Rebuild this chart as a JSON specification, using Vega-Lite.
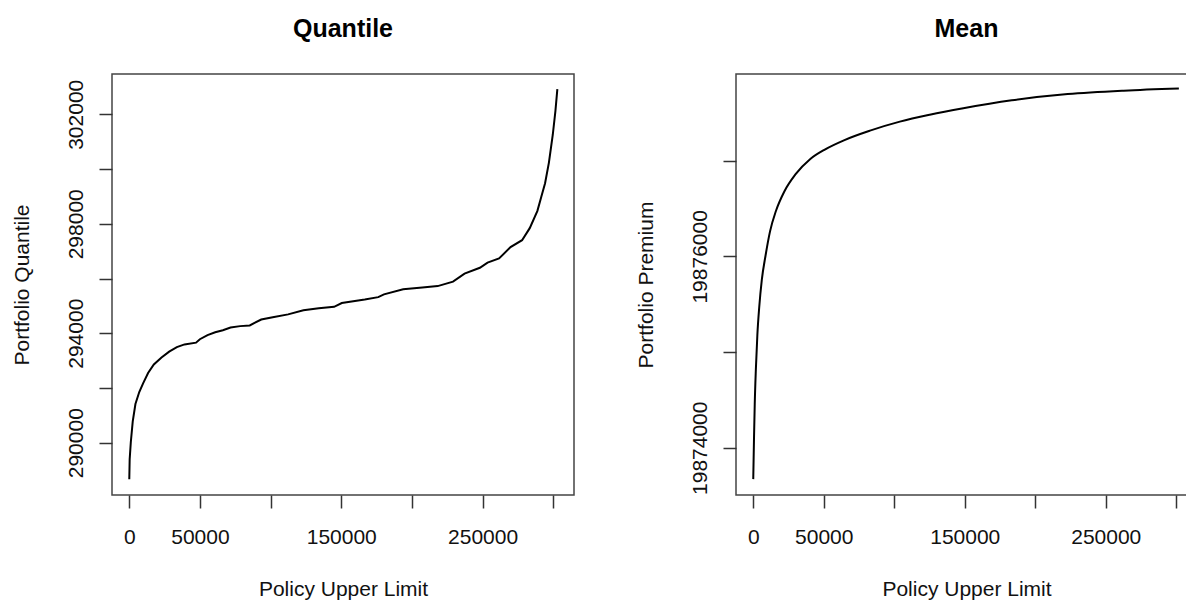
{
  "$schema": "https://vega.github.io/schema/vega-lite/v6.json",
  "background": "white",
  "padding": {"left": 10, "top": 16, "right": 0, "bottom": 0},
  "spacing": 162,
  "bounds": "flush",
  "config": {
    "view": {"stroke": "#444444", "strokeWidth": 1.5},
    "font": "Liberation Sans",
    "axis": {
      "grid": false,
      "domain": false,
      "tickColor": "#333333",
      "tickSize": 13,
      "tickWidth": 1.5,
      "labelFont": "Liberation Sans",
      "labelFontSize": 21,
      "labelColor": "#111111",
      "titleFont": "Liberation Sans",
      "titleFontSize": 21,
      "titleFontWeight": "normal",
      "titleColor": "#111111",
      "labelOverlap": false,
      "labelFlush": false
    },
    "title": {"font": "Liberation Sans", "fontSize": 25, "fontWeight": "bold", "color": "#000000", "anchor": "middle", "offset": 32, "baseline": "alphabetic"}
  },
  "datasets": {
    "quantile": [
      {"limit": 0, "value": 288664},
      {"limit": 271, "value": 289395},
      {"limit": 1086, "value": 290025},
      {"limit": 2443, "value": 290782},
      {"limit": 4343, "value": 291412},
      {"limit": 7057, "value": 291853},
      {"limit": 9772, "value": 292168},
      {"limit": 13301, "value": 292546},
      {"limit": 17372, "value": 292861},
      {"limit": 22801, "value": 293113},
      {"limit": 28230, "value": 293328},
      {"limit": 33659, "value": 293491},
      {"limit": 39087, "value": 293592},
      {"limit": 47231, "value": 293655},
      {"limit": 49945, "value": 293782},
      {"limit": 55374, "value": 293933},
      {"limit": 60803, "value": 294034},
      {"limit": 66231, "value": 294109},
      {"limit": 71660, "value": 294210},
      {"limit": 78446, "value": 294260},
      {"limit": 85232, "value": 294286},
      {"limit": 93375, "value": 294500},
      {"limit": 101519, "value": 294588},
      {"limit": 112376, "value": 294689},
      {"limit": 123234, "value": 294840},
      {"limit": 134091, "value": 294916},
      {"limit": 144949, "value": 294966},
      {"limit": 150378, "value": 295105},
      {"limit": 166664, "value": 295231},
      {"limit": 176165, "value": 295319},
      {"limit": 180237, "value": 295420},
      {"limit": 193809, "value": 295609},
      {"limit": 207380, "value": 295672},
      {"limit": 218238, "value": 295722},
      {"limit": 229095, "value": 295886},
      {"limit": 237239, "value": 296176},
      {"limit": 248097, "value": 296391},
      {"limit": 253525, "value": 296580},
      {"limit": 261668, "value": 296731},
      {"limit": 269812, "value": 297147},
      {"limit": 277955, "value": 297399},
      {"limit": 283384, "value": 297840},
      {"limit": 288812, "value": 298471},
      {"limit": 291527, "value": 298975},
      {"limit": 294241, "value": 299479},
      {"limit": 296956, "value": 300235},
      {"limit": 299670, "value": 301244},
      {"limit": 301570, "value": 302126},
      {"limit": 302927, "value": 302920}
    ],
    "mean": [
      {"limit": 0, "value": 19873672},
      {"limit": 529, "value": 19874097},
      {"limit": 1058, "value": 19874458},
      {"limit": 1852, "value": 19874819},
      {"limit": 2910, "value": 19875179},
      {"limit": 4233, "value": 19875468},
      {"limit": 6085, "value": 19875756},
      {"limit": 8730, "value": 19876009},
      {"limit": 11905, "value": 19876261},
      {"limit": 16138, "value": 19876477},
      {"limit": 21958, "value": 19876676},
      {"limit": 29894, "value": 19876856},
      {"limit": 40476, "value": 19877018},
      {"limit": 51058, "value": 19877119},
      {"limit": 64286, "value": 19877213},
      {"limit": 82804, "value": 19877314},
      {"limit": 103968, "value": 19877408},
      {"limit": 125132, "value": 19877480},
      {"limit": 148941, "value": 19877548},
      {"limit": 183333, "value": 19877631},
      {"limit": 223016, "value": 19877696},
      {"limit": 262698, "value": 19877732},
      {"limit": 301852, "value": 19877754}
    ]
  },
  "hconcat": [
    {
      "width": 462,
      "height": 421,
      "title": {"text": "Quantile"},
      "data": {"name": "quantile"},
      "mark": {"type": "line", "color": "#000000", "strokeWidth": 2},
      "encoding": {
        "x": {
          "field": "limit", "type": "quantitative",
          "scale": {"domain": [-12235, 314710], "nice": false, "zero": false},
          "axis": {
            "values": [0, 50000, 100000, 150000, 200000, 250000, 300000],
            "format": "d",
            "labelExpr": "datum.value == 100000 || datum.value == 200000 || datum.value == 300000 ? '' : datum.label",
            "labelBaseline": "alphabetic",
            "labelPadding": 35,
            "title": "Policy Upper Limit",
            "titleY": 100,
            "titleBaseline": "alphabetic"
          }
        },
        "y": {
          "field": "value", "type": "quantitative",
          "scale": {"domain": [288089, 303473], "nice": false, "zero": false},
          "axis": {
            "values": [290000, 292000, 294000, 296000, 298000, 300000, 302000],
            "format": "d",
            "labelExpr": "(datum.value - 290000) % 4000 == 0 ? datum.label : ''",
            "labelAngle": 270,
            "labelAlign": "center",
            "labelBaseline": "alphabetic",
            "labelPadding": 17,
            "title": "Portfolio Quantile",
            "titleAngle": 270,
            "titleAlign": "center",
            "titleBaseline": "alphabetic",
            "titleX": -84,
            "titleY": 210.5
          }
        }
      }
    },
    {
      "width": 461,
      "height": 421,
      "title": {"text": "Mean"},
      "data": {"name": "mean"},
      "mark": {"type": "line", "color": "#000000", "strokeWidth": 2, "interpolate": "monotone"},
      "encoding": {
        "x": {
          "field": "limit", "type": "quantitative",
          "scale": {"domain": [-12235, 314710], "nice": false, "zero": false},
          "axis": {
            "values": [0, 50000, 100000, 150000, 200000, 250000, 300000],
            "format": "d",
            "labelExpr": "datum.value == 100000 || datum.value == 200000 || datum.value == 300000 ? '' : datum.label",
            "labelBaseline": "alphabetic",
            "labelPadding": 35,
            "title": "Policy Upper Limit",
            "titleY": 100,
            "titleBaseline": "alphabetic"
          }
        },
        "y": {
          "field": "value", "type": "quantitative",
          "scale": {"domain": [19873506, 19877906], "nice": false, "zero": false},
          "axis": {
            "values": [19874000, 19875000, 19876000, 19877000],
            "format": "d",
            "labelExpr": "datum.value % 2000 == 0 ? datum.label : ''",
            "labelAngle": 270,
            "labelAlign": "center",
            "labelBaseline": "alphabetic",
            "labelPadding": 17,
            "title": "Portfolio Premium",
            "titleAngle": 270,
            "titleAlign": "center",
            "titleBaseline": "alphabetic",
            "titleX": -84,
            "titleY": 210.5
          }
        }
      }
    }
  ]
}
